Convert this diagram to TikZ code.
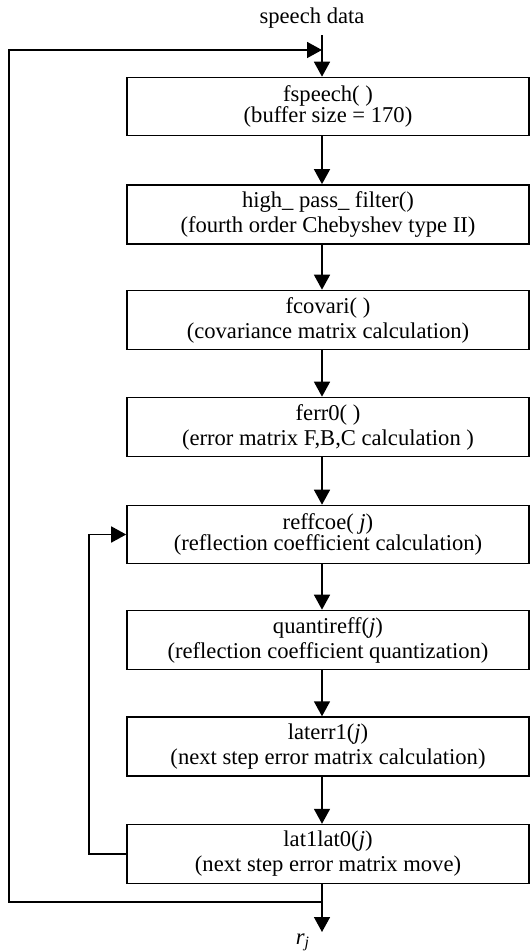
\documentclass[tikz,border=0pt]{standalone}
\usepackage{fontspec}
\setmainfont{Liberation Serif}
\usetikzlibrary{arrows.meta}
\usetikzlibrary{positioning}

\begin{document}
\begin{tikzpicture}[x=0.5pt,y=-0.5pt]
  \tikzset{box/.style={draw, line width=0.8pt, minimum width=201pt, minimum height=29pt, align=center, font=\fontsize{11.3}{12.5}\selectfont}}
  \tikzset{line/.style={draw, line width=0.8pt, -{Triangle[width=8pt,length=7.5pt]}}}
  \tikzset{line2/.style={draw, line width=0.8pt}}

  \useasboundingbox (0,0) rectangle (530,952);

  \node[box] (fspeech) at (328,106.5) {fspeech( )\\[-2pt](buffer size = 170)};
  \node[box] (hpf) at (328,214.5) {high\_ pass\_ filter()\\(fourth order Chebyshev type II)};
  \node[box] (fcovari) at (328,320) {fcovari( )\\(covariance matrix calculation)};
  \node[box] (ferr) at (328,427) {ferr0( )\\(error matrix F,B,C calculation )};
  \node[box] (reffcoe) at (328,534.5) {reffcoe( \textit{j})\\[-2pt](reflection coefficient calculation)};
  \node[box] (quant) at (328,640) {quantireff(\textit{j})\\(reflection coefficient quantization)};
  \node[box] (laterr) at (328,746.5) {laterr1(\textit{j})\\(next step error matrix calculation)};
  \node[box] (latlat) at (328,854) {lat1lat0(\textit{j})\\(next step error matrix move)};

  \node[font=\fontsize{11.3}{12.5}\selectfont] (input) at (312,18) {speech data};
  \node[font=\fontsize{11.3}{12.5}\selectfont] (rj) at (303,942) {\textit{r}\textsubscript{\textit{j}}};

  \coordinate (col) at (322,0);
  \coordinate (join) at (322,50);
  \coordinate (turn) at (322,902);
  \coordinate (tip) at (322,932);
  \coordinate (back) at (9,902);
  \coordinate (top) at (9,50);
  \coordinate (lp) at (89,0);

  % main chain
  \draw[line] (input.south -| col) -- (fspeech.north -| col);
  \draw[line] (fspeech.south -| col) -- (hpf.north -| col);
  \draw[line] (hpf.south -| col) -- (fcovari.north -| col);
  \draw[line] (fcovari.south -| col) -- (ferr.north -| col);
  \draw[line] (ferr.south -| col) -- (reffcoe.north -| col);
  \draw[line] (reffcoe.south -| col) -- (quant.north -| col);
  \draw[line] (quant.south -| col) -- (laterr.north -| col);
  \draw[line] (laterr.south -| col) -- (latlat.north -| col);
  \draw[line] (latlat.south -| col) -- (tip);

  % loops
  \draw[line] (turn) -- (back) -- (top) -- (join);
  \draw[line] (latlat.west) -- (lp |- latlat.west) -- (lp |- reffcoe.west) -- (reffcoe.west);

\end{tikzpicture}
\end{document}
